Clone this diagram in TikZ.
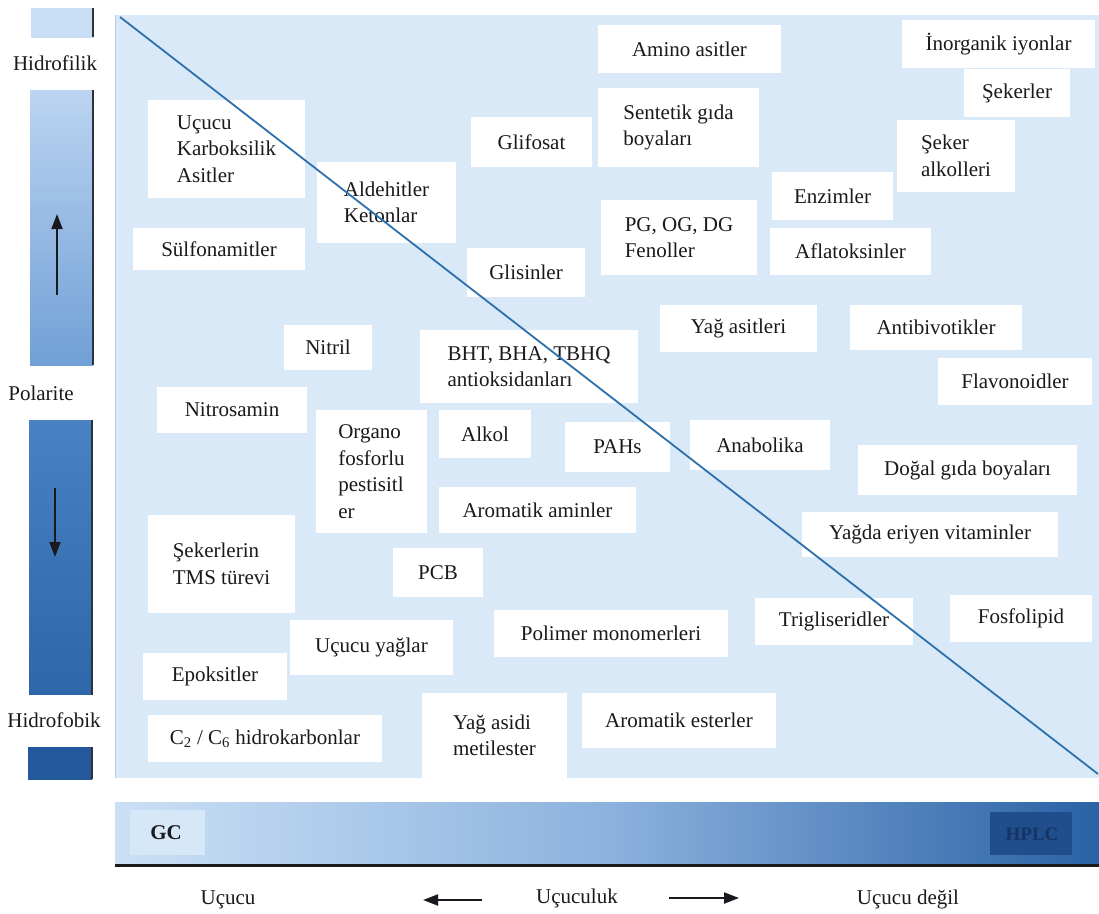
\documentclass[tikz,border=0pt]{standalone}
\usepackage{fontspec}
\setmainfont{Liberation Serif}
\usetikzlibrary{arrows.meta}
\definecolor{panel}{RGB}{217,233,248}
\definecolor{panelEdge}{RGB}{185,205,228}
\definecolor{diagc}{RGB}{45,112,172}
\definecolor{barEdge}{RGB}{45,50,60}
\definecolor{sA}{RGB}{200,222,245}
\definecolor{sB}{RGB}{188,212,241}
\definecolor{sC}{RGB}{112,160,214}
\definecolor{sD}{RGB}{72,130,196}
\definecolor{sE}{RGB}{45,102,170}
\definecolor{sF}{RGB}{35,88,156}
\definecolor{gL}{RGB}{203,224,245}
\definecolor{gM}{RGB}{140,178,222}
\definecolor{gR}{RGB}{42,98,165}
\definecolor{gcbox}{RGB}{214,231,248}
\definecolor{hpbox}{RGB}{32,78,140}
\definecolor{hptext}{RGB}{22,52,98}
\definecolor{inkc}{RGB}{25,25,30}
\begin{document}
\begin{tikzpicture}[x=1pt,y=-1pt,
  bx/.style={fill=white, inner sep=0pt, align=left, text=inkc, font=\fontsize{21}{26.5}\selectfont},
  lab/.style={inner sep=0pt, text=inkc, font=\fontsize{21}{26}\selectfont},
  arr/.style={line width=2pt, inkc, -{Triangle[length=15pt,width=11pt]}},
  barr/.style={line width=1.8pt, inkc, -{Triangle[length=15pt,width=11pt]}}]
\useasboundingbox (0,0) rectangle (1099,913);
\fill[white] (0,0) rectangle (1099,913);

% left polarity bar
\shade[top color=sA, bottom color=sA] (31,8) rectangle (93,37);
\shade[top color=sB, bottom color=sC] (30,90) rectangle (93,365);
\shade[top color=sD, bottom color=sE] (29,420) rectangle (92,695);
\shade[top color=sF, bottom color=sF] (28,747) rectangle (92,779);
\draw[barEdge, line width=1.6pt] (93,8) -- (93,37);
\draw[barEdge, line width=1.6pt] (93,90) -- (93,365);
\draw[barEdge, line width=1.6pt] (92,420) -- (92,695);
\draw[barEdge, line width=1.6pt] (92,747) -- (92,779);
\fill[white] (0,695) rectangle (125,747);

\node[lab] (hfil) at (55,63) {Hidrofilik};
\node[lab] (pol) at (41,393) {Polarite};
\node[lab] (hfob) at (54,720) {Hidrofobik};

\coordinate (ua1) at (57,295);
\coordinate (ua2) at (57,214);
\coordinate (da1) at (55,488);
\coordinate (da2) at (55,557);
\draw[barr] (ua1) -- (ua2);
\draw[barr] (da1) -- (da2);

% main panel
\fill[panel] (115,15) rectangle (1099,778);
\draw[panelEdge, line width=1pt] (115,15) -- (115,778);

% boxes
\node[bx, minimum width=183, minimum height=48] (amino) at (689.5,49) {Amino asitler};
\node[bx, minimum width=193, minimum height=48] (inorg) at (998.5,44) {İnorganik iyonlar};
\node[bx, minimum width=106, minimum height=48] (seker) at (1017,93) {Şekerler};
\node[bx, minimum width=161, minimum height=79] (sent) at (678.5,127.5) {Sentetik gıda\\boyaları};
\node[bx, minimum width=121, minimum height=50] (glif) at (531.5,142) {Glifosat};
\node[bx, minimum width=118, minimum height=72] (sekalk) at (956,156) {Şeker\\alkolleri};
\node[bx, minimum width=157, minimum height=98] (ucka) at (226.5,149) {Uçucu\\Karboksilik\\Asitler};
\node[bx, minimum width=139, minimum height=81] (ald) at (386.5,202.5) {Aldehitler\\Ketonlar};
\node[bx, minimum width=121, minimum height=48] (enz) at (832.5,196) {Enzimler};
\node[bx, minimum width=156, minimum height=75] (pgog) at (679,237.5) {PG, OG, DG\\Fenoller};
\node[bx, minimum width=161, minimum height=47] (afla) at (850.5,251.5) {Aflatoksinler};
\node[bx, minimum width=172, minimum height=42] (sulf) at (219,249) {Sülfonamitler};
\node[bx, minimum width=118, minimum height=49] (glis) at (526,272.5) {Glisinler};
\node[bx, minimum width=157, minimum height=47] (yagas) at (738.5,328.5) {Yağ asitleri};
\node[bx, minimum width=172, minimum height=45] (antib) at (936,327.5) {Antibivotikler};
\node[bx, minimum width=88, minimum height=45] (nitril) at (328,347.5) {Nitril};
\node[bx, minimum width=218, minimum height=73] (bht) at (529,366.5) {BHT, BHA, TBHQ\\antioksidanları};
\node[bx, minimum width=154, minimum height=47] (flav) at (1015,381.5) {Flavonoidler};
\node[bx, minimum width=150, minimum height=46] (nitros) at (232,410) {Nitrosamin};
\node[bx, minimum width=111, minimum height=123] (organo) at (371.5,471.5) {Organo\\fosforlu\\pestisitl\\er};
\node[bx, minimum width=92, minimum height=48] (alkol) at (485,434) {Alkol};
\node[bx, minimum width=105, minimum height=50] (pahs) at (617.5,447) {PAHs};
\node[bx, minimum width=140, minimum height=50] (anab) at (760,445) {Anabolika};
\node[bx, minimum width=219, minimum height=50] (dogal) at (967.5,470) {Doğal gıda boyaları};
\node[bx, minimum width=197, minimum height=46] (aram) at (537.5,510) {Aromatik aminler};
\node[bx, minimum width=256, minimum height=45] (yagda) at (930,534.5) {Yağda eriyen vitaminler};
\node[bx, minimum width=147, minimum height=98] (tms) at (221.5,564) {Şekerlerin\\TMS türevi};
\node[bx, minimum width=90, minimum height=49] (pcb) at (438,572.5) {PCB};
\node[bx, minimum width=158, minimum height=47] (trig) at (834,621.5) {Trigliseridler};
\node[bx, minimum width=142, minimum height=47] (fosf) at (1021,618.5) {Fosfolipid};
\node[bx, minimum width=234, minimum height=47] (polim) at (611,633.5) {Polimer monomerleri};
\node[bx, minimum width=163, minimum height=55] (ucyag) at (371.5,647.5) {Uçucu yağlar};
\node[bx, minimum width=144, minimum height=47] (epok) at (215,676.5) {Epoksitler};
\node[bx, minimum width=145, minimum height=85] (yagme) at (494.5,735.5) {Yağ asidi\\metilester};
\node[bx, minimum width=194, minimum height=55] (arest) at (679,720.5) {Aromatik esterler};
\node[bx, minimum width=234, minimum height=47] (hidro) at (265,738.5) {C\textsubscript{2} / C\textsubscript{6} hidrokarbonlar};

% diagonal
\coordinate (dtl) at (120,17);
\coordinate (dbr) at (1098,774);
\draw[diagc, line width=1.8pt] (dtl) -- (dbr);

% bottom volatility bar
\shade[left color=gL, right color=gR, middle color=gM] (115,802) rectangle (1099,864);
\fill[gcbox] (130,810) rectangle (205,855);
\fill[hpbox] (990,812) rectangle (1072,855);
\node[lab, font=\fontsize{21}{26}\selectfont\bfseries] (gc) at (166,833) {GC};
\node[lab, text=hptext, font=\fontsize{19}{24}\selectfont\bfseries] (hplc) at (1032,834) {HPLC};
\draw[inkc, line width=3.2pt] (115,865.5) -- (1099,865.5);

\node[lab] (ucucu) at (228,900) {Uçucu};
\node[lab] (uculuk) at (577,898) {Uçuculuk};
\node[lab] (ucdegil) at (908,899) {Uçucu değil};
\coordinate (la1) at (482,900);
\coordinate (la2) at (423,900);
\coordinate (ra1) at (669,898);
\coordinate (ra2) at (739,898);
\draw[arr] (la1) -- (la2);
\draw[arr] (ra1) -- (ra2);
\end{tikzpicture}
\end{document}
